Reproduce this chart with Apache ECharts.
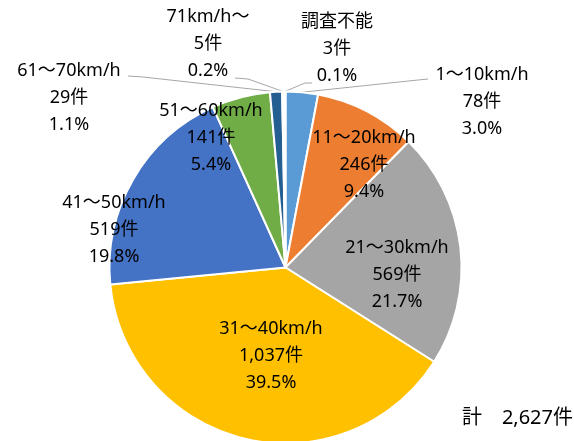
<!DOCTYPE html>
<html>
<head>
<meta charset="utf-8">
<script src="https://cdn.jsdelivr.net/npm/echarts@6/dist/echarts.min.js"></script>
<style>
html,body{margin:0;padding:0;background:#fff;}
#chart{width:574px;height:441px;}
</style>
</head>
<body>
<div id="chart"></div>
<script>
// ---- data ----
const categories = ['1～10km/h','11～20km/h','21～30km/h','31～40km/h','41～50km/h','51～60km/h','61～70km/h','71km/h～','調査不能'];
const counts = [78, 246, 569, 1037, 519, 141, 29, 5, 3];
const totalPrefix = '計';
const unit = '件';

// ---- style / layout config ----
const colors = ['#5B9BD5','#ED7D31','#A5A5A5','#FFC000','#4472C4','#70AD47','#255E91','#9E480E','#636363'];
const labelCenters = [[482,102],[364,165],[397,275],[271,356],[114,230],[211,138],[69,98],[208,44],[337,49]];
const leaderOffsets = {0:[[-64,-22],[-54,-23]], 6:[[74,-21],[59,-22]], 7:[[40,35],[27,34]], 8:[[-32,34],[-25,34]]};
const FONT = "'Noto Sans','Noto Sans CJK JP',sans-serif";
const FS = 18;

const total = counts.reduce((a,b)=>a+b,0);
const fmt = n => n.toLocaleString('en-US');

const chart = echarts.init(document.getElementById('chart'));
chart.setOption({
  animation:false,
  color: colors,
  graphic:[{
    type:'text', right:1, top:408,
    style:{text: totalPrefix + '\u3000' + fmt(total) + unit, font:'20px ' + FONT, fill:'#000'}
  }],
  series:[{
    type:'pie',
    center:[285.5,267.5],
    radius:176,
    startAngle:90,
    clockwise:true,
    avoidLabelOverlap:false,
    itemStyle:{borderColor:'#fff', borderWidth:2},
    label:{
      show:true, position:'outside', color:'#000', fontFamily:FONT, fontSize:FS, lineHeight:27, align:'center',
      formatter: p => p.name + '\n' + fmt(p.value) + unit + '\n' + (p.value/total*100).toFixed(1) + '%'
    },
    labelLine:{show:true, lineStyle:{color:'#A6A6A6', width:1}},
    labelLayout: function(params){
      const i = params.dataIndex;
      const c = labelCenters[i];
      const res = {x:c[0], y:c[1], align:'center', verticalAlign:'middle'};
      const lo = leaderOffsets[i];
      if (lo && params.labelLinePoints) {
        const a = params.labelLinePoints[0];
        res.labelLinePoints = [[a[0],a[1]],[c[0]+lo[0][0],c[1]+lo[0][1]],[c[0]+lo[1][0],c[1]+lo[1][1]]];
      }
      return res;
    },
    data: categories.map((n,i)=>({
      name:n, value:counts[i],
      labelLine:{show: leaderOffsets[i] !== undefined}
    }))
  }]
});
</script>
</body>
</html>
